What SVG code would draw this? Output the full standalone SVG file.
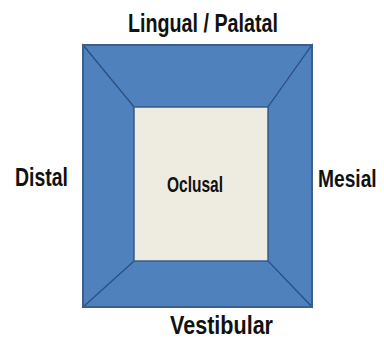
<svg xmlns="http://www.w3.org/2000/svg" width="384" height="340" viewBox="0 0 384 340">
<style>
.face{fill:#4F81BD;stroke:#2E5286;stroke-width:1.2;stroke-linejoin:miter}
.center{fill:#EEECE1;stroke:#3A5F8E;stroke-width:1.5}
.lbl{font-family:"Liberation Sans",Arial,sans-serif;font-weight:bold;fill:#111;text-anchor:start}
</style>
<rect width="384" height="340" fill="#fff"/>
<g id="lingual"><polygon class="face" points="83,45 312,45 268,107 134,107"/></g>
<g id="mesial"><polygon class="face" points="312,45 312,307 268,261 268,107"/></g>
<g id="vestibular"><polygon class="face" points="83,307 134,261 268,261 312,307"/></g>
<g id="distal"><polygon class="face" points="83,45 134,107 134,261 83,307"/></g>
<rect x="83" y="45" width="229" height="262" fill="none" stroke="#3A5F8E" stroke-width="2"/>
<g id="oclusal"><rect class="center" x="134" y="107" width="134" height="154"/>
<text class="lbl" x="167" y="192" font-size="22" textLength="56" lengthAdjust="spacingAndGlyphs">Oclusal</text></g>
<text class="lbl" x="128" y="32" font-size="26" textLength="150" lengthAdjust="spacingAndGlyphs">Lingual / Palatal</text>
<text class="lbl" x="15" y="186" font-size="25" textLength="53" lengthAdjust="spacingAndGlyphs">Distal</text>
<text class="lbl" transform="translate(318,187) scale(0.8,1)" x="0" y="0" font-size="24">Mesial</text>
<text class="lbl" x="170" y="334" font-size="25" textLength="103" lengthAdjust="spacingAndGlyphs">Vestibular</text>
</svg>
